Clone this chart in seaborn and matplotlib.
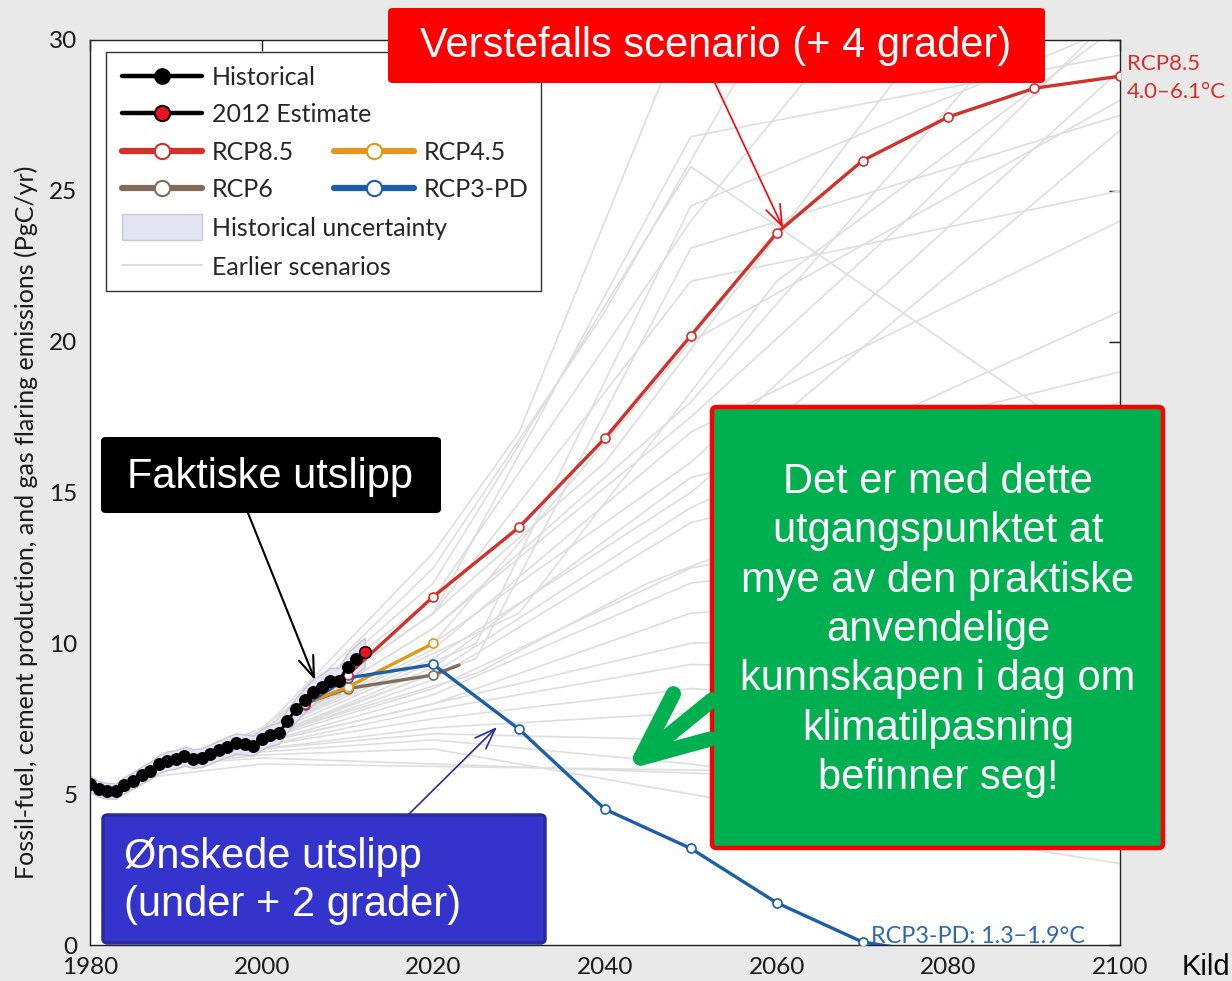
#!/usr/bin/env python3

import matplotlib
matplotlib.use('Agg')
import matplotlib.pyplot as plt
from matplotlib.lines import Line2D
from matplotlib.patches import Patch, Rectangle, FancyBboxPatch, FancyArrowPatch
import pandas as pd
import seaborn as sns

# historical fossil fuel + cement emissions (PgC/yr)
HIST_YEARS = list(range(1980, 2012))
HIST_VALUES = [5.34, 5.17, 5.11, 5.10, 5.30, 5.45, 5.63, 5.78, 5.99, 6.11,
	6.15, 6.26, 6.18, 6.21, 6.33, 6.46, 6.57, 6.68, 6.65, 6.61,
	6.82, 6.95, 7.02, 7.43, 7.81, 8.12, 8.40, 8.56, 8.75, 8.75,
	9.22, 9.48]
EST_YEARS = [2012]
EST_VALUES = [9.70]
HIST_UNC = 0.05   # +-5 %

RCP85_YEARS = [2005, 2010, 2020, 2030, 2040, 2050, 2060, 2070, 2080, 2090, 2100]
RCP85_VALUES = [8.0, 8.95, 11.55, 13.85, 16.8, 20.2, 23.6, 26.0, 27.45, 28.4, 28.8]
RCP45_YEARS = [2005, 2010, 2020]
RCP45_VALUES = [8.0, 8.55, 10.0]
RCP6_YEARS = [2005, 2010, 2020, 2023]
RCP6_VALUES = [8.0, 8.5, 8.95, 9.28]
RCP3_YEARS = [2005, 2010, 2020, 2030, 2040, 2050, 2060, 2070, 2080, 2090, 2100]
RCP3_VALUES = [7.95, 8.85, 9.3, 7.15, 4.5, 3.2, 1.4, 0.1, -0.35, -0.7, -1.0]

# earlier scenarios (grey fan)
EARLIER_YEARS = [
	[1990, 2000, 2020, 2040, 2060],
	[1990, 2000, 2020, 2050, 2070],
	[1990, 2000, 2020, 2050, 2100],
	[1990, 2000, 2025, 2050, 2100],
	[1990, 2000, 2025, 2050, 2100],
	[1990, 2000, 2020, 2050, 2100],
	[1990, 2000, 2020, 2050, 2075, 2100],
	[1990, 2000, 2020, 2050, 2100],
	[1990, 2000, 2020, 2050, 2100],
	[1990, 2000, 2020, 2050, 2100],
	[1990, 2000, 2020, 2050, 2100],
	[1990, 2000, 2020, 2050, 2100],
	[1990, 2000, 2020, 2050, 2100],
	[1990, 2000, 2020, 2050, 2100],
	[1990, 2000, 2020, 2050, 2100],
	[1990, 2000, 2020, 2050, 2100],
	[1990, 2000, 2020, 2050, 2100],
	[1990, 2000, 2020, 2050, 2100],
	[1990, 2000, 2020, 2050, 2100],
	[1990, 2000, 2020, 2050, 2100],
	[1990, 2000, 2020, 2050, 2100],
	[1990, 2000, 2020, 2050, 2100],
	[1990, 2000, 2020, 2060, 2100],
	[1990, 2000, 2100],
	[1985, 2000, 2100],
	[1990, 2000, 2020, 2040, 2080],
	[1990, 2000, 2020, 2050, 2090],
	[1990, 2000, 2030, 2060, 2100],
	[1990, 2000, 2020, 2050, 2100],
	[1990, 2000, 2020, 2050, 2100],
	[1990, 2000, 2020, 2030, 2050],
	[1990, 2000, 2025, 2045, 2100],
]
EARLIER_VALUES = [
	[6.0, 7.0, 12.5, 21.0, 31.0],
	[6.0, 7.2, 11.5, 24.0, 31.0],
	[6.0, 7.0, 11.0, 26.8, 29.5],
	[6.0, 6.9, 10.0, 24.5, 30.5],
	[6.0, 6.9, 9.5, 23.1, 27.5],
	[6.0, 7.0, 12.0, 25.8, 16.0],
	[6.0, 7.0, 10.5, 17.5, 24.0, 31.0],
	[6.0, 7.0, 10.0, 16.0, 29.0],
	[6.0, 7.0, 9.5, 15.0, 27.0],
	[6.0, 7.0, 9.8, 17.0, 24.0],
	[6.0, 6.8, 9.0, 14.5, 21.0],
	[6.0, 6.8, 9.2, 15.5, 19.0],
	[6.0, 6.8, 8.8, 14.0, 17.5],
	[6.0, 6.8, 8.5, 12.5, 15.0],
	[6.0, 6.7, 8.3, 12.0, 13.5],
	[6.0, 6.7, 8.0, 11.0, 12.0],
	[6.0, 6.7, 8.0, 10.0, 10.5],
	[6.0, 6.6, 7.8, 9.3, 9.0],
	[6.0, 6.6, 7.5, 8.5, 7.5],
	[6.0, 6.5, 7.2, 7.7, 6.0],
	[6.0, 6.5, 7.0, 6.8, 5.0],
	[6.0, 6.4, 6.8, 6.0, 4.2],
	[6.0, 6.3, 6.5, 4.5, 2.7],
	[6.0, 6.2, 5.2],
	[5.5, 6.0, 5.6],
	[6.0, 7.0, 11.0, 16.0, 31.0],
	[6.0, 7.0, 10.5, 18.0, 31.0],
	[6.0, 7.0, 11.0, 22.0, 30.5],
	[6.0, 7.0, 10.0, 20.0, 28.0],
	[6.0, 7.0, 11.0, 22.0, 25.0],
	[6.0, 7.1, 13.0, 17.0, 31.0],
	[6.0, 6.9, 9.0, 12.0, 18.0],
]

LEGEND_TOP = ['Historical', '2012 Estimate']
LEGEND_RCP = ['RCP8.5', 'RCP6', 'RCP4.5', 'RCP3-PD']
LEGEND_BOTTOM = ['Historical uncertainty', 'Earlier scenarios']

C_RCP85 = '#d3302a'
C_RCP45 = '#e0981c'
C_RCP6 = '#836c5c'
C_RCP3 = '#1b5fa8'
C_GREY = '#dedede'

W, H = 1232, 981

def fx(px):
	return px / W

def fy(py):
	return 1 - py / H

def add_box(fig, x0, y0, x1, y1, face, edge=None, lw=0):
	p = FancyBboxPatch((fx(x0), fy(y1)), fx(x1) - fx(x0), fy(y0) - fy(y1),
		boxstyle='round,pad=0,rounding_size=0.004',
		transform=fig.transFigure, facecolor=face,
		edgecolor=edge if edge else face, lw=lw, zorder=10)
	fig.add_artist(p)

def add_arrow(fig, p0, p1, color, lw, style, scale):
	a = FancyArrowPatch((fx(p0[0]), fy(p0[1])), (fx(p1[0]), fy(p1[1])),
		transform=fig.transFigure, arrowstyle=style, mutation_scale=scale,
		color=color, lw=lw, shrinkA=0, shrinkB=0, zorder=12,
		capstyle='round', joinstyle='round')
	fig.add_artist(a)

def rcp_line(ax, years, values, color, markevery=None):
	df = pd.DataFrame({'year': years, 'value': values})
	sns.lineplot(data=df, x='year', y='value', ax=ax, color=color, lw=2.4,
		marker='o', markersize=6.5, markerfacecolor='white',
		markeredgecolor=color, markeredgewidth=1.2, markevery=markevery,
		zorder=3, legend=False)

def main():
	sns.set_theme(style='white')
	plt.rcParams['font.family'] = ['Lato', 'DejaVu Sans']

	fig = plt.figure(figsize=(W / 100, H / 100), dpi=100, facecolor='#e9e9e9')
	ax = fig.add_axes([fx(90), fy(945), fx(1120) - fx(90), fy(40) - fy(945)])
	ax.set_facecolor('white')

	# earlier scenarios
	rows = []
	for i, (ys, vs) in enumerate(zip(EARLIER_YEARS, EARLIER_VALUES)):
		for y, v in zip(ys, vs):
			rows.append({'scenario': i, 'year': y, 'value': v})
	earlier = pd.DataFrame(rows)
	sns.lineplot(data=earlier, x='year', y='value', units='scenario',
		estimator=None, color=C_GREY, lw=1.2, ax=ax, zorder=1, legend=False)

	# historical uncertainty band
	hist = pd.DataFrame({'year': HIST_YEARS + EST_YEARS, 'value': HIST_VALUES + EST_VALUES})
	ax.fill_between(hist['year'], hist['value'] * (1 - HIST_UNC), hist['value'] * (1 + HIST_UNC),
		facecolor='#e4e4f2', edgecolor='#c4c4d4', lw=1.0, zorder=2)

	rcp_line(ax, RCP6_YEARS, RCP6_VALUES, C_RCP6, markevery=[1, 2])
	rcp_line(ax, RCP45_YEARS, RCP45_VALUES, C_RCP45)
	rcp_line(ax, RCP3_YEARS, RCP3_VALUES, C_RCP3)
	rcp_line(ax, RCP85_YEARS, RCP85_VALUES, C_RCP85)

	sns.lineplot(data=hist, x='year', y='value', ax=ax, color='black', lw=2.2,
		marker='o', markersize=8.5, markerfacecolor='black', markeredgecolor='black',
		zorder=4, legend=False)
	est = pd.DataFrame({'year': EST_YEARS, 'value': EST_VALUES})
	sns.scatterplot(data=est, x='year', y='value', ax=ax, color='#e8141c',
		edgecolor='black', linewidth=1.0, s=70, zorder=4.5, legend=False)

	ax.set_xlim(1980, 2100)
	ax.set_ylim(0, 30)
	ax.set_xticks(range(1980, 2101, 20))
	ax.set_yticks(range(0, 31, 5))
	ax.tick_params(direction='in', top=True, right=True, length=8, width=1,
		labelsize=17.5, pad=9, colors='#1a1a1a')
	for s in ax.spines.values():
		s.set_color('#222222')
		s.set_linewidth(1.0)
	ax.set_xlabel('')
	ax.set_ylabel('Fossil-fuel, cement production, and gas flaring emissions (PgC/yr)',
		fontsize=18, color='#1a1a1a')
	ax.yaxis.set_label_coords(-0.05, 0.467)

	ax.text(2100.8, 28.74, 'RCP8.5\n4.0\u20136.1\u00b0C', color=C_RCP85, fontsize=16,
		ha='left', va='center', linespacing=1.45, clip_on=False)
	ax.text(2071.0, -0.05, 'RCP3-PD: 1.3\u22121.9\u00b0C', color='#2a68b0', fontsize=16.8,
		ha='left', va='bottom', clip_on=False)

	# legend
	ax.add_patch(Rectangle((fx(106), fy(291)), fx(541) - fx(106), fy(52) - fy(291),
		transform=fig.transFigure, facecolor='white', edgecolor='#333333', lw=1.0,
		zorder=4.8, clip_on=False))
	common = dict(bbox_transform=fig.transFigure, frameon=False, borderpad=0,
		borderaxespad=0, handlelength=3.2, handletextpad=0.4, labelspacing=0.56,
		fontsize=18, loc='center left', numpoints=1)
	h_top = [Line2D([], [], color='black', lw=3.2, marker='o', ms=11,
			mfc='black', mec='black'),
		Line2D([], [], color='black', lw=3.2, marker='o', ms=11,
			mfc='#e8141c', mec='black', mew=1.5)]
	leg1 = ax.legend(h_top, LEGEND_TOP, bbox_to_anchor=(fx(122), fy(96)), **common)
	leg1.set_zorder(5)
	ax.add_artist(leg1)
	h_rcp = [Line2D([], [], color=c, lw=4.5, marker='o', ms=11, mfc='white', mec=c, mew=1.5)
		for c in (C_RCP85, C_RCP6, C_RCP45, C_RCP3)]
	leg2 = ax.legend(h_rcp, LEGEND_RCP, bbox_to_anchor=(fx(122), fy(171)), ncol=2,
		columnspacing=1.58, **common)
	leg2.set_zorder(5)
	ax.add_artist(leg2)
	h_bot = [Patch(facecolor='#e4e4f2', edgecolor='#c8c8d8', lw=1.0),
		Line2D([], [], color=C_GREY, lw=1.5)]
	leg3 = ax.legend(h_bot, LEGEND_BOTTOM, bbox_to_anchor=(fx(122), fy(247)),
		handleheight=1.2, **common)
	leg3.set_zorder(5)

	# annotation boxes
	box_font = dict(family=['Liberation Sans', 'DejaVu Sans'], color='white', fontsize=30, zorder=13)
	add_box(fig, 388, 8, 1045, 83, '#ff0000')
	fig.text(fx(716), fy(46), 'Verstefalls scenario (+ 4 grader)', ha='center', va='center', **box_font)
	add_arrow(fig, (715, 83), (783, 228), '#ff0000', 1.2, '->,head_length=1.5,head_width=0.55', 10)

	add_box(fig, 101, 437, 441, 513, 'black')
	fig.text(fx(270), fy(477), 'Faktiske utslipp', ha='center', va='center', **box_font)
	add_arrow(fig, (248, 513), (315, 680), 'black', 1.5, '->,head_length=1.5,head_width=0.55', 10)

	add_box(fig, 103, 815, 545, 943, '#3434cc', '#2a2a9c', 2.5)
	fig.text(fx(124), fy(881), '\u00d8nskede utslipp\n(under + 2 grader)', ha='left', va='center',
		linespacing=1.25, **box_font)
	add_arrow(fig, (408, 815), (497, 727), '#2a2a9c', 1.2, '->,head_length=1.5,head_width=0.55', 10)

	add_box(fig, 712, 407, 1163, 848, '#00b050', '#ff0000', 3.2)
	fig.text(fx(938), fy(630),
		'Det er med dette\nutgangspunktet at\nmye av den praktiske\nanvendelige\n'
		'kunnskapen i dag om\nklimatilpasning\nbefinner seg!',
		ha='center', va='center', linespacing=1.3, **box_font)
	add_arrow(fig, (712, 700), (626, 770), '#00b050', 11,
		'->,head_length=0.95,head_width=0.42', 50)

	fig.text(fx(1182), fy(981), 'Kild', ha='left', va='bottom', fontsize=21,
		family=['Liberation Sans', 'DejaVu Sans'], color='black', zorder=13)

	plt.savefig('out.png', dpi=100, facecolor=fig.get_facecolor())

if __name__ == '__main__':
	main()
